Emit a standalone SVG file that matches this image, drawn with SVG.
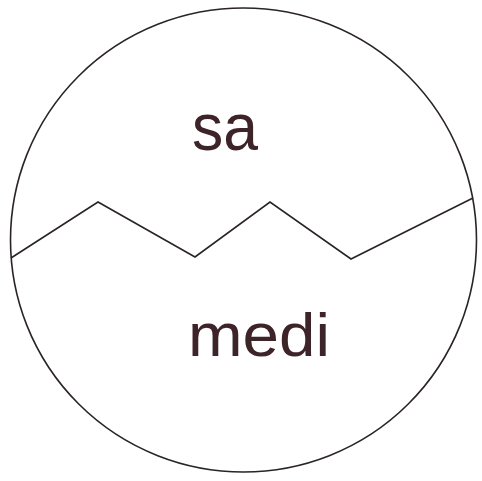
<svg xmlns="http://www.w3.org/2000/svg" width="482" height="481" viewBox="0 0 482 481">
<style>
.line{fill:none;stroke:#2a2426;stroke-width:1.6;stroke-linejoin:miter}
.lbl{font-family:"Liberation Sans","DejaVu Sans",sans-serif;fill:#3d2428;font-weight:normal}
</style>
<rect width="482" height="481" fill="#ffffff"/>
<g id="circle">
<ellipse class="line" cx="243.5" cy="240" rx="233" ry="232"/>
</g>
<g id="connectors">
<polyline class="line" points="11,258 98,202 195,257 270,202 351,259 473,198"/>
</g>
<g id="top">
<text class="lbl" x="192" y="150" font-size="66" textLength="66" lengthAdjust="spacingAndGlyphs">sa</text>
</g>
<g id="bottom">
<text class="lbl" x="188" y="356" font-size="62" textLength="142" lengthAdjust="spacingAndGlyphs">medi</text>
</g>
</svg>
